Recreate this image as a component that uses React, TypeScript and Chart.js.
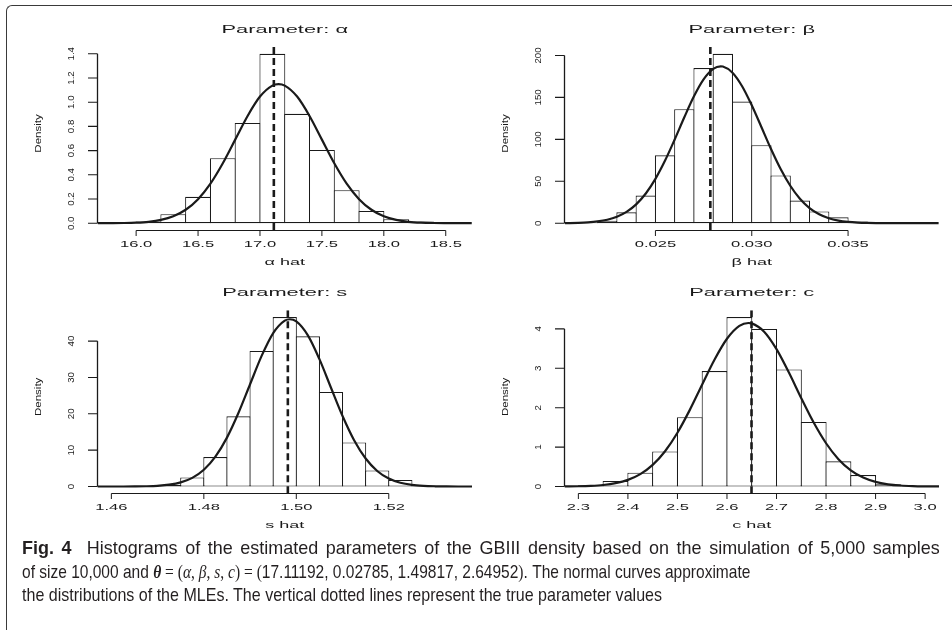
import React, { useEffect, useLayoutEffect, useRef, useState } from 'react';
import { Chart, registerables } from 'chart.js';

Chart.register(...registerables);

// ---------- Panel alpha ----------
const alphaBinMids = [15.9, 16.1, 16.3, 16.5, 16.7, 16.9, 17.1, 17.3, 17.5, 17.7, 17.9, 18.1, 18.3, 18.5];
const alphaDensity = [0.005, 0.014, 0.074, 0.218, 0.537, 0.829, 1.40, 0.904, 0.606, 0.273, 0.102, 0.033, 0.014, 0.004];
const alphaCurveX = [15.69, 15.8, 15.9, 16.0, 16.1, 16.2, 16.3, 16.4, 16.5, 16.6, 16.7, 16.8, 16.9, 17.0, 17.1, 17.15, 17.2, 17.3, 17.4, 17.5, 17.6, 17.7, 17.8, 17.9, 18.0, 18.1, 18.2, 18.3, 18.4, 18.5, 18.6, 18.71];
const alphaCurveY = [0.0002, 0.0006, 0.0017, 0.0047, 0.0118, 0.0271, 0.0572, 0.1111, 0.1989, 0.3272, 0.4956, 0.6907, 0.8863, 1.0465, 1.1371, 1.149, 1.1371, 1.0465, 0.8863, 0.6907, 0.4956, 0.3272, 0.1989, 0.1111, 0.0572, 0.0271, 0.0118, 0.0047, 0.0017, 0.0006, 0.0002, 0.0];
const alphaTrue = 17.11192;
const alphaXTicks = [16.0, 16.5, 17.0, 17.5, 18.0, 18.5];
const alphaXTickLabels = ['16.0', '16.5', '17.0', '17.5', '18.0', '18.5'];
const alphaYTicks = [0, 0.2, 0.4, 0.6, 0.8, 1.0, 1.2, 1.4];
const alphaYTickLabels = ['0.0', '0.2', '0.4', '0.6', '0.8', '1.0', '1.2', '1.4'];

// ---------- Panel beta ----------
const betaBinMids = [0.0215, 0.0225, 0.0235, 0.0245, 0.0255, 0.0265, 0.0275, 0.0285, 0.0295, 0.0305, 0.0315, 0.0325, 0.0335, 0.0345, 0.0355, 0.0365, 0.0375, 0.0385];
const betaDensity = [1, 3, 13, 33, 81, 136, 185, 202, 145, 93, 57, 27, 14, 7, 2, 1, 0.4, 0.2];
const betaCurveX = [0.0203, 0.0205, 0.021, 0.0215, 0.022, 0.0225, 0.023, 0.0235, 0.024, 0.0245, 0.025, 0.0255, 0.026, 0.0265, 0.027, 0.0275, 0.028, 0.02839, 0.0285, 0.029, 0.0295, 0.030, 0.0305, 0.031, 0.0315, 0.032, 0.0325, 0.033, 0.0335, 0.034, 0.0345, 0.035, 0.0355, 0.036, 0.0365, 0.037, 0.038, 0.0397];
const betaCurveY = [0.14, 0.20, 0.46, 1.01, 2.11, 4.13, 7.68, 13.5, 22.5, 35.45, 52.88, 74.69, 99.82, 126.28, 151.23, 171.4, 183.9, 187.0, 186.75, 179.5, 163.3, 140.6, 114.7, 88.45, 64.6, 44.66, 29.21, 18.08, 10.6, 5.88, 3.09, 1.54, 0.72, 0.32, 0.14, 0.05, 0.01, 0.0];
const betaTrue = 0.02785;
const betaXTicks = [0.025, 0.030, 0.035];
const betaXTickLabels = ['0.025', '0.030', '0.035'];
const betaYTicks = [0, 50, 100, 150, 200];
const betaYTickLabels = ['0', '50', '100', '150', '200'];

// ---------- Panel s ----------
const sBinMids = [1.4625, 1.4675, 1.4725, 1.4775, 1.4825, 1.4875, 1.4925, 1.4975, 1.5025, 1.5075, 1.5125, 1.5175, 1.5225, 1.5275, 1.5325];
const sDensity = [0.05, 0.1, 0.5, 2.5, 8.1, 19.3, 37.3, 46.6, 41.3, 26.0, 12.1, 4.4, 1.8, 0.3, 0.1];
const sCurveX = [1.457, 1.46, 1.4625, 1.465, 1.4675, 1.47, 1.4725, 1.475, 1.4775, 1.48, 1.4825, 1.485, 1.4875, 1.49, 1.4925, 1.495, 1.4975, 1.4986, 1.5, 1.5025, 1.505, 1.5075, 1.51, 1.5125, 1.515, 1.5175, 1.52, 1.5225, 1.525, 1.5275, 1.53, 1.5325, 1.535, 1.538];
const sCurveY = [0.0005, 0.002, 0.008, 0.025, 0.074, 0.20, 0.50, 1.13, 2.38, 4.61, 8.21, 13.45, 20.28, 28.13, 35.92, 42.2, 45.63, 46.0, 45.4, 41.57, 35.03, 27.17, 19.39, 12.73, 7.7, 4.28, 2.19, 1.03, 0.45, 0.18, 0.065, 0.022, 0.007, 0.0015];
const sTrue = 1.49817;
const sXTicks = [1.46, 1.48, 1.50, 1.52];
const sXTickLabels = ['1.46', '1.48', '1.50', '1.52'];
const sYTicks = [0, 10, 20, 30, 40];
const sYTickLabels = ['0', '10', '20', '30', '40'];

// ---------- Panel c ----------
const cBinMids = [2.325, 2.375, 2.425, 2.475, 2.525, 2.575, 2.625, 2.675, 2.725, 2.775, 2.825, 2.875, 2.925, 2.975];
const cDensity = [0.03, 0.14, 0.35, 0.89, 1.76, 2.93, 4.30, 4.00, 2.97, 1.64, 0.64, 0.29, 0.06, 0.01];
const cCurveX = [2.272, 2.3, 2.325, 2.35, 2.375, 2.4, 2.425, 2.45, 2.475, 2.5, 2.525, 2.55, 2.575, 2.6, 2.625, 2.6433, 2.65, 2.675, 2.7, 2.725, 2.75, 2.775, 2.8, 2.825, 2.85, 2.875, 2.9, 2.925, 2.95, 2.975, 3.0, 3.028];
const cCurveY = [0.0024, 0.007, 0.0172, 0.0394, 0.0843, 0.1684, 0.3144, 0.5487, 0.8957, 1.3653, 1.9451, 2.5904, 3.2237, 3.7496, 4.0753, 4.15, 4.1399, 3.93, 3.4868, 2.8913, 2.2406, 1.6227, 1.0981, 0.6947, 0.4108, 0.2269, 0.1171, 0.0565, 0.0255, 0.0107, 0.0042, 0.0014];
const cTrue = 2.64952;
const cXTicks = [2.3, 2.4, 2.5, 2.6, 2.7, 2.8, 2.9, 3.0];
const cXTickLabels = ['2.3', '2.4', '2.5', '2.6', '2.7', '2.8', '2.9', '3.0'];
const cYTicks = [0, 1, 2, 3, 4];
const cYTickLabels = ['0', '1', '2', '3', '4'];

const INK = '#1a1a1a';
const FONT = '"Liberation Sans", Arial, Helvetica, sans-serif';
const W = 952;
const H = 630;

type PanelSpec = {
  mids: number[];
  dens: number[];
  curveX: number[];
  curveY: number[];
  trueVal: number;
  xTicks: number[];
  xTickLabels: string[];
  yTicks: number[];
  yTickLabels: string[];
  title: string;
  xTitle: string;
  area: { left: number; top: number; right: number; bottom: number };
};

const panels: PanelSpec[] = [
  {
    mids: alphaBinMids, dens: alphaDensity, curveX: alphaCurveX, curveY: alphaCurveY, trueVal: alphaTrue,
    xTicks: alphaXTicks, xTickLabels: alphaXTickLabels, yTicks: alphaYTicks, yTickLabels: alphaYTickLabels,
    title: 'Parameter: \u03b1', xTitle: '\u03b1 hat',
    area: { left: 97.5, top: 47, right: 472, bottom: 230 },
  },
  {
    mids: betaBinMids, dens: betaDensity, curveX: betaCurveX, curveY: betaCurveY, trueVal: betaTrue,
    xTicks: betaXTicks, xTickLabels: betaXTickLabels, yTicks: betaYTicks, yTickLabels: betaYTickLabels,
    title: 'Parameter: \u03b2', xTitle: '\u03b2 hat',
    area: { left: 564.5, top: 47, right: 939, bottom: 230 },
  },
  {
    mids: sBinMids, dens: sDensity, curveX: sCurveX, curveY: sCurveY, trueVal: sTrue,
    xTicks: sXTicks, xTickLabels: sXTickLabels, yTicks: sYTicks, yTickLabels: sYTickLabels,
    title: 'Parameter: s', xTitle: 's hat',
    area: { left: 97.5, top: 310.3, right: 472, bottom: 493.3 },
  },
  {
    mids: cBinMids, dens: cDensity, curveX: cCurveX, curveY: cCurveY, trueVal: cTrue,
    xTicks: cXTicks, xTickLabels: cXTickLabels, yTicks: cYTicks, yTickLabels: cYTickLabels,
    title: 'Parameter: c', xTitle: 'c hat',
    area: { left: 564.5, top: 310.3, right: 939, bottom: 493.3 },
  },
];

function hText(ctx: CanvasRenderingContext2D, s: string, x: number, y: number, size: number, sx: number) {
  ctx.save();
  ctx.translate(x, y);
  ctx.scale(sx, 1);
  ctx.font = `${size}px ${FONT}`;
  ctx.textAlign = 'center';
  ctx.textBaseline = 'alphabetic';
  ctx.fillText(s, 0, 0);
  ctx.restore();
}

function vText(ctx: CanvasRenderingContext2D, s: string, x: number, y: number, size: number, along: number, across: number) {
  ctx.save();
  ctx.translate(x, y);
  ctx.rotate(-Math.PI / 2);
  ctx.scale(along, across);
  ctx.font = `${size}px ${FONT}`;
  ctx.textAlign = 'center';
  ctx.textBaseline = 'alphabetic';
  ctx.fillText(s, 0, 0);
  ctx.restore();
}

function makeRPlugin(p: PanelSpec) {
  return {
    id: 'rStyleAxes',
    afterDraw(chart: any) {
      const ctx: CanvasRenderingContext2D = chart.ctx;
      const a = chart.chartArea;
      const xs = chart.scales.x;
      const ys = chart.scales.y;
      ctx.save();
      ctx.strokeStyle = INK;
      ctx.fillStyle = INK;

      // x axis (R style: from first to last tick, at bottom of plot region)
      const xp = p.xTicks.map((v) => xs.getPixelForValue(v));
      const yb = Math.round(a.bottom) + 0.5;
      ctx.lineWidth = 1;
      ctx.beginPath();
      ctx.moveTo(xp[0], yb);
      ctx.lineTo(xp[xp.length - 1], yb);
      xp.forEach((px) => {
        ctx.moveTo(px, yb);
        ctx.lineTo(px, yb + 5.5);
      });
      ctx.stroke();

      // y axis
      const yp = p.yTicks.map((v) => ys.getPixelForValue(v));
      const xl = a.left;
      ctx.lineWidth = 1.3;
      ctx.beginPath();
      ctx.moveTo(xl, yp[0]);
      ctx.lineTo(xl, yp[yp.length - 1]);
      ctx.stroke();
      ctx.lineWidth = 1.1;
      ctx.beginPath();
      yp.forEach((py) => {
        ctx.moveTo(xl, py);
        ctx.lineTo(xl - 9.5, py);
      });
      ctx.stroke();

      // tick labels
      p.xTickLabels.forEach((t, i) => hText(ctx, t, xp[i], a.bottom + 16.5, 8.5, 1.95));
      p.yTickLabels.forEach((t, i) => vText(ctx, t, xl - 24, yp[i], 11, 0.88, 0.8));

      // titles
      const cx = (a.left + a.right) / 2;
      hText(ctx, p.title, cx, a.top - 14.5, 11.2, 1.95);
      hText(ctx, p.xTitle, cx, a.bottom + 34.5, 9, 2.0);
      vText(ctx, 'Density', xl - 57, (a.top + a.bottom) / 2 - 5, 11.5, 1.0, 0.85);
      ctx.restore();
    },
  };
}

function Panel({ p }: { p: PanelSpec }) {
  const ref = useRef<HTMLCanvasElement>(null);
  useEffect(() => {
    if (!ref.current) return;
    const bw = p.mids[1] - p.mids[0];
    const lo = p.mids[0] - bw / 2;
    const hi = p.mids[p.mids.length - 1] + bw / 2;
    const ext = 0.04 * (hi - lo);
    const ymax = Math.max(...p.dens);
    const yMin = -0.04 * ymax;
    const yMax = 1.04 * ymax;
    // widen each bar by ~1px so that neighbouring rectangles share one edge line
    const binPx = ((p.area.right - p.area.left) * bw) / (hi - lo + 2 * ext);
    const edge = 1.1;
    const chart = new Chart(ref.current, {
      type: 'bar',
      data: {
        datasets: [
          {
            type: 'line',
            data: [
              { x: p.trueVal, y: yMin },
              { x: p.trueVal, y: yMax },
            ],
            borderColor: INK,
            borderWidth: 2.6,
            borderDash: [7, 4],
            pointRadius: 0,
            fill: false,
            order: 1,
          } as any,
          {
            type: 'line',
            data: p.curveX.map((x, i) => ({ x, y: p.curveY[i] })),
            borderColor: INK,
            borderWidth: 2.2,
            pointRadius: 0,
            fill: false,
            cubicInterpolationMode: 'monotone',
            order: 2,
          } as any,
          {
            type: 'bar',
            data: p.mids.map((m, i) => ({ x: m, y: p.dens[i] })),
            backgroundColor: '#ffffff',
            borderColor: INK,
            borderWidth: edge,
            borderSkipped: false,
            barPercentage: 1 + edge / binPx,
            categoryPercentage: 1,
            order: 3,
          } as any,
        ],
      },
      options: {
        responsive: false,
        animation: false,
        devicePixelRatio: 1,
        layout: {
          padding: {
            left: p.area.left,
            top: p.area.top,
            right: W - p.area.right,
            bottom: H - p.area.bottom,
          },
        },
        scales: {
          x: {
            type: 'linear',
            min: lo - ext,
            max: hi + ext,
            offset: false,
            display: false,
            grid: { offset: false },
            afterBuildTicks: (s: any) => {
              s.ticks = p.xTicks.map((v) => ({ value: v }));
            },
          },
          y: {
            type: 'linear',
            min: yMin,
            max: yMax,
            beginAtZero: false,
            display: false,
          },
        },
        plugins: {
          legend: { display: false },
          tooltip: { enabled: false },
          title: { display: false },
        },
        events: [],
      } as any,
      plugins: [makeRPlugin(p)],
    });
    return () => chart.destroy();
  }, [p]);
  return (
    <canvas
      ref={ref}
      width={W}
      height={H}
      style={{ position: 'absolute', left: 0, top: 0, width: W, height: H }}
    />
  );
}

const captionLine1 = 'Histograms of the estimated parameters of the GBIII density based on the simulation of 5,000 samples';
const captionLine2a = 'of size 10,000 and ';
const captionLine2b = '17.11192, 0.02785, 1.49817, 2.64952';
const captionLine2c = '. The normal curves approximate';
const captionLine3 = 'the distributions of the MLEs. The vertical dotted lines represent the true parameter values';

const SERIF = '"Liberation Serif", "DejaVu Serif", serif';
const CAPTION_LEFT = 22;
const CAPTION_TOP = 536;
const CAPTION_LEADING = 23.5;
const LINE_WIDTHS = [918, 728, 640];
const LINE1_SPACES = 1 + 2 + (captionLine1.match(/ /g) || []).length;

export default function App() {
  const r1 = useRef<HTMLSpanElement>(null);
  const r2 = useRef<HTMLSpanElement>(null);
  const r3 = useRef<HTMLSpanElement>(null);
  const [ks, setKs] = useState([1, 1, 1]);
  const [ws, setWs] = useState(0);
  useLayoutEffect(() => {
    const w1 = r1.current ? r1.current.offsetWidth : 0;
    const w2 = r2.current ? r2.current.offsetWidth : 0;
    const w3 = r3.current ? r3.current.offsetWidth : 0;
    if (!(w1 > 0 && w2 > 0 && w3 > 0)) return;
    const k2 = LINE_WIDTHS[1] / w2;
    const k3 = LINE_WIDTHS[2] / w3;
    // first line: slightly wider glyphs plus justified word spacing
    const k1 = Math.min(LINE_WIDTHS[0] / w1, k3 * 1.12);
    const extra = LINE_WIDTHS[0] / k1 - w1;
    setKs([k1, k2, k3]);
    setWs(Math.max(0, extra / LINE1_SPACES));
  }, []);
  const lineStyle = (i: number): React.CSSProperties => ({
    position: 'absolute',
    left: CAPTION_LEFT,
    top: CAPTION_TOP + i * CAPTION_LEADING,
    fontFamily: '"Liberation Sans", Arial, sans-serif',
    fontSize: 18.5,
    lineHeight: `${CAPTION_LEADING}px`,
    color: '#231f20',
    whiteSpace: 'pre',
    transformOrigin: '0 0',
    transform: `scaleX(${ks[i]})`,
  });
  return (
    <div
      style={{
        position: 'fixed',
        left: 0,
        top: 0,
        width: W,
        height: H,
        overflow: 'hidden',
        background: '#ffffff',
      }}
    >
      <div
        style={{
          position: 'absolute',
          left: 6,
          top: 5,
          width: 1000,
          height: 700,
          borderTop: '1px solid #3a3a3a',
          borderLeft: '1px solid #3a3a3a',
          borderTopLeftRadius: 6,
          boxSizing: 'border-box',
        }}
      />
      {panels.map((p, i) => (
        <Panel key={i} p={p} />
      ))}
      <div style={{ ...lineStyle(0), wordSpacing: `${ws}px` }}>
        <span ref={r1}>
          <b>Fig. 4</b>
          {'  '}
          {captionLine1}
        </span>
      </div>
      <div style={lineStyle(1)}>
        <span ref={r2}>
          {captionLine2a}
          <span style={{ fontFamily: SERIF, fontStyle: 'italic', fontWeight: 'bold' }}>{'\u03b8'}</span>
          <span style={{ fontFamily: SERIF }}>{' = ('}</span>
          <span style={{ fontFamily: SERIF, fontStyle: 'italic' }}>{'\u03b1'}</span>
          <span style={{ fontFamily: SERIF }}>{', '}</span>
          <span style={{ fontFamily: SERIF, fontStyle: 'italic' }}>{'\u03b2'}</span>
          <span style={{ fontFamily: SERIF }}>{', '}</span>
          <span style={{ fontFamily: SERIF, fontStyle: 'italic' }}>s</span>
          <span style={{ fontFamily: SERIF }}>{', '}</span>
          <span style={{ fontFamily: SERIF, fontStyle: 'italic' }}>c</span>
          <span style={{ fontFamily: SERIF }}>{') = ('}</span>
          {captionLine2b}
          <span style={{ fontFamily: SERIF }}>{')'}</span>
          {captionLine2c}
        </span>
      </div>
      <div style={lineStyle(2)}>
        <span ref={r3}>{captionLine3}</span>
      </div>
    </div>
  );
}
